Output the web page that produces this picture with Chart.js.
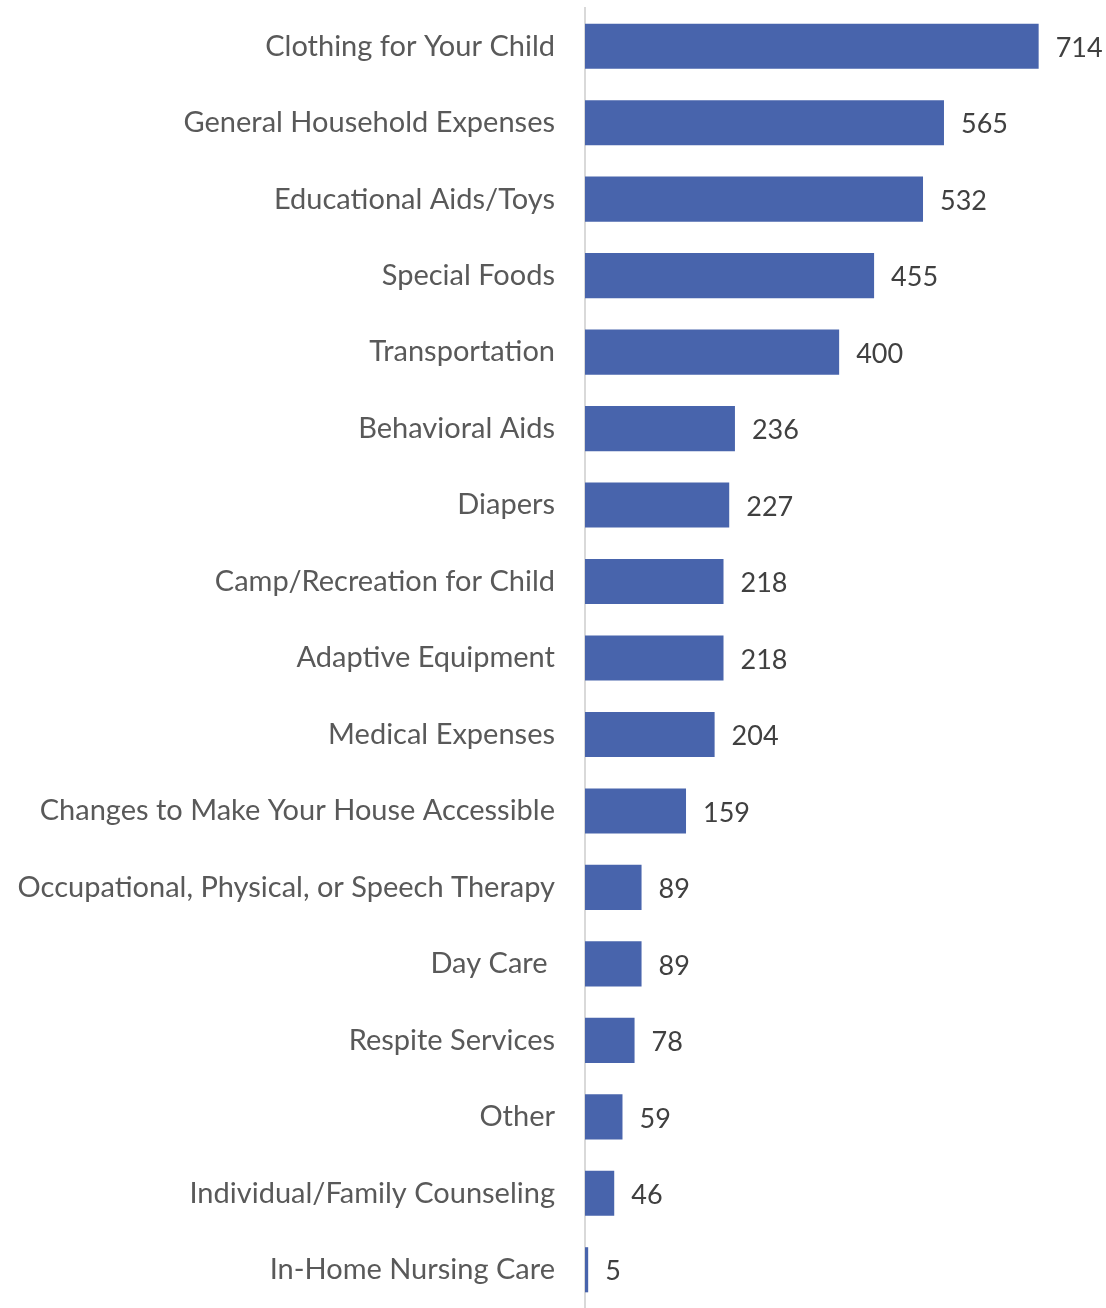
<!DOCTYPE html>
<html>
<head>
<meta charset="utf-8">
<script src="https://cdn.jsdelivr.net/npm/chart.js@4/dist/chart.umd.min.js"></script>
<style>
html,body{margin:0;padding:0;background:#fff;}
#wrap{position:relative;width:1106px;height:1308px;}
</style>
</head>
<body>
<div id="wrap"><canvas id="c"></canvas></div>
<script>
const categories = [
  "Clothing for Your Child",
  "General Household Expenses",
  "Educational Aids/Toys",
  "Special Foods",
  "Transportation",
  "Behavioral Aids",
  "Diapers",
  "Camp/Recreation for Child",
  "Adaptive Equipment",
  "Medical Expenses",
  "Changes to Make Your House Accessible",
  "Occupational, Physical, or Speech Therapy",
  "Day Care ",
  "Respite Services",
  "Other",
  "Individual/Family Counseling",
  "In-Home Nursing Care"
];
const counts = [714, 565, 532, 455, 400, 236, 227, 218, 218, 204, 159, 89, 89, 78, 59, 46, 5];

const FONT = "Lato, 'Open Sans', sans-serif";

const valueLabels = {
  id: 'valueLabels',
  afterDatasetsDraw(chart) {
    const ctx = chart.ctx;
    const meta = chart.getDatasetMeta(0);
    ctx.save();
    ctx.font = "27px " + FONT;
    ctx.fillStyle = "#404040";
    ctx.textAlign = "left";
    ctx.textBaseline = "middle";
    meta.data.forEach((bar, i) => {
      ctx.fillText(String(counts[i]), bar.x + 17, bar.y + 2);
    });
    ctx.restore();
  }
};

new Chart(document.getElementById('c'), {
  type: 'bar',
  data: {
    labels: categories,
    datasets: [{
      data: counts,
      backgroundColor: '#4864ac',
      borderWidth: 0,
      categoryPercentage: 1.0,
      barPercentage: 0.59
    }]
  },
  options: {
    indexAxis: 'y',
    responsive: true,
    maintainAspectRatio: false,
    animation: false,
    layout: { padding: { top: 8, bottom: 0, left: 0, right: 0 } },
    plugins: { legend: { display: false }, tooltip: { enabled: false } },
    scales: {
      x: { display: false, min: 0, max: 820 },
      y: {
        afterFit(scale) {
          scale.width = 585;
          scale.paddingTop = 0;
          scale.paddingBottom = 0;
        },
        grid: { display: true, drawOnChartArea: false, drawTicks: false },
        border: { display: true, color: '#d9d9d9', width: 2 },
        ticks: {
          padding: 30,
          color: '#595959',
          font: { family: FONT, size: 29 },
          autoSkip: false
        }
      }
    }
  },
  plugins: [valueLabels]
});
</script>
</body>
</html>
